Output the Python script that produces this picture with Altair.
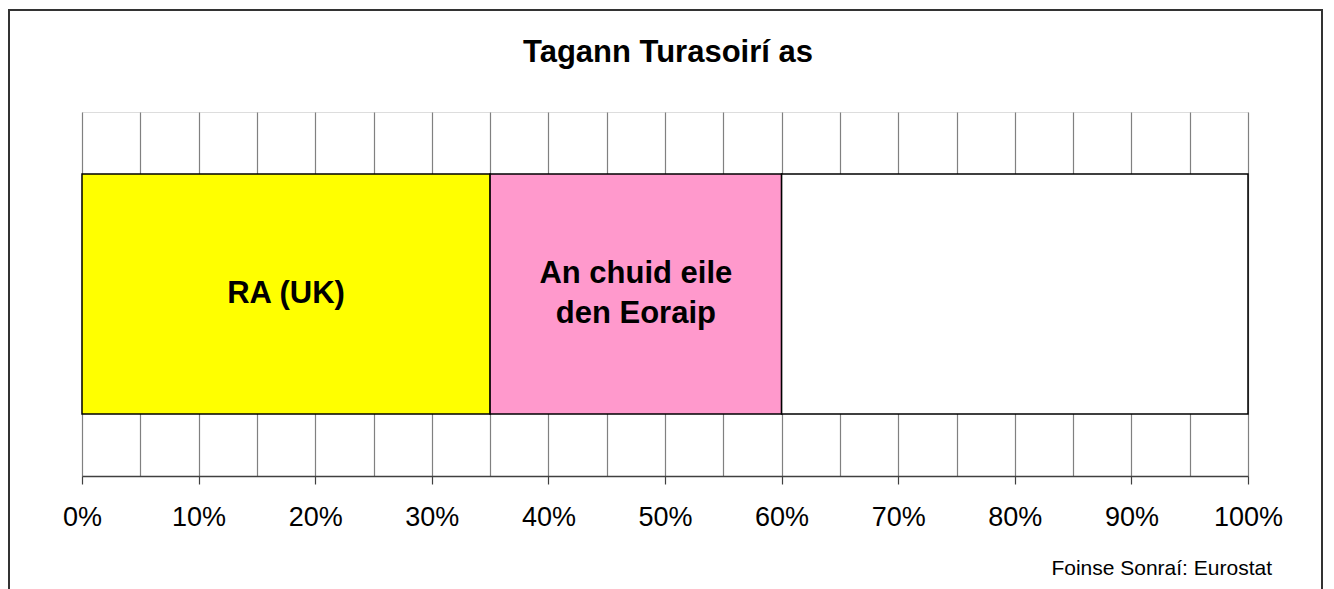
import altair as alt
import pandas as pd

# --- data ---
categories = ["RA (UK)", "An chuid eile den Eoraip", "Eile"]
labels = ["RA (UK)", "An chuid eile\nden Eoraip", ""]
shares = [35, 25, 40]          # percent of tourists
order = [1, 2, 3]
colors = ["#FFFF00", "#FF99CC", "#FFFFFF"]
tick_values = list(range(0, 101, 5))
title_text = "Tagann Turasoirí as"
source_text = "Foinse Sonraí: Eurostat"

FONT = "Liberation Sans"

df = pd.DataFrame({
    "row": ["Turasoirí"] * len(categories),
    "category": categories,
    "label": labels,
    "share": shares,
    "ord": order,
})

yscale = alt.Scale(paddingInner=0, paddingOuter=0.2583)

xaxis = alt.Axis(
    values=tick_values,
    grid=True,
    gridColor="#808080",
    gridWidth=1.2,
    labelExpr="datum.value % 10 === 0 ? datum.value + '%' : ''",
    labelFont=FONT,
    labelFontSize=27,
    labelColor="#000000",
    labelBaseline="alphabetic",
    labelPadding=41,
    labelOverlap=False,
    labelFlush=False,
    tickSize=8,
    tickColor="#404040",
    tickWidth=1.2,
    tickOpacity={"condition": {"test": "datum.value % 10 === 0", "value": 1}, "value": 0},
    domainColor="#404040",
    domainWidth=1.5,
    title=None,
)

base = alt.Chart(df)

bars = base.mark_bar(stroke="#000000", strokeWidth=1.5).encode(
    x=alt.X("share:Q", stack="zero", scale=alt.Scale(domain=[0, 100], nice=False), axis=xaxis),
    y=alt.Y("row:N", axis=None, scale=yscale),
    color=alt.Color("category:N", scale=alt.Scale(domain=categories, range=colors), legend=None),
    order=alt.Order("ord:Q"),
)

stacked = base.transform_stack(
    stack="share", groupby=["row"], as_=["s0", "s1"], sort=[alt.SortField("ord")]
).transform_calculate(
    mid="(datum.s0 + datum.s1) / 2"
)

text_enc = dict(
    x=alt.X("mid:Q"),
    y=alt.Y("row:N", axis=None, scale=yscale),
    text="label:N",
)
text_style = dict(
    font=FONT, fontSize=31, fontWeight="bold", color="#000000",
    align="center", baseline="middle", lineBreak="\n", lineHeight=40,
)

texts_single = stacked.transform_filter(
    "indexof(datum.label, '\\n') < 0"
).mark_text(**text_style).encode(**text_enc)

texts_multi = stacked.transform_filter(
    "indexof(datum.label, '\\n') >= 0"
).mark_text(dy=-20, **text_style).encode(**text_enc)

one = alt.Chart(pd.DataFrame({"k": [0]}))

frame = one.mark_rect(fillOpacity=0, stroke="#333333", strokeWidth=2).encode(
    x=alt.value(-73), x2=alt.value(1240), y=alt.value(-102), y2=alt.value(520)
)

title = one.mark_text(
    font=FONT, fontSize=31, fontWeight="bold", align="center",
    baseline="alphabetic", color="#000000"
).encode(
    x=alt.value(586), y=alt.value(-50), text=alt.value(title_text)
)

source = one.mark_text(
    font=FONT, fontSize=21, align="right", baseline="alphabetic", color="#000000"
).encode(
    x=alt.value(1190), y=alt.value(463), text=alt.value(source_text)
)

chart = alt.layer(frame, bars, texts_single, texts_multi, title, source).properties(
    width=1166,
    height=364,
    autosize=alt.AutoSizeParams(type="none"),
    padding={"left": 74, "top": 104, "right": 76, "bottom": 113},
).configure_view(
    stroke="#808080", strokeWidth=1.2
).configure(background="#FFFFFF")

chart.save("out.html", embed_options={"renderer": "svg", "actions": False})
